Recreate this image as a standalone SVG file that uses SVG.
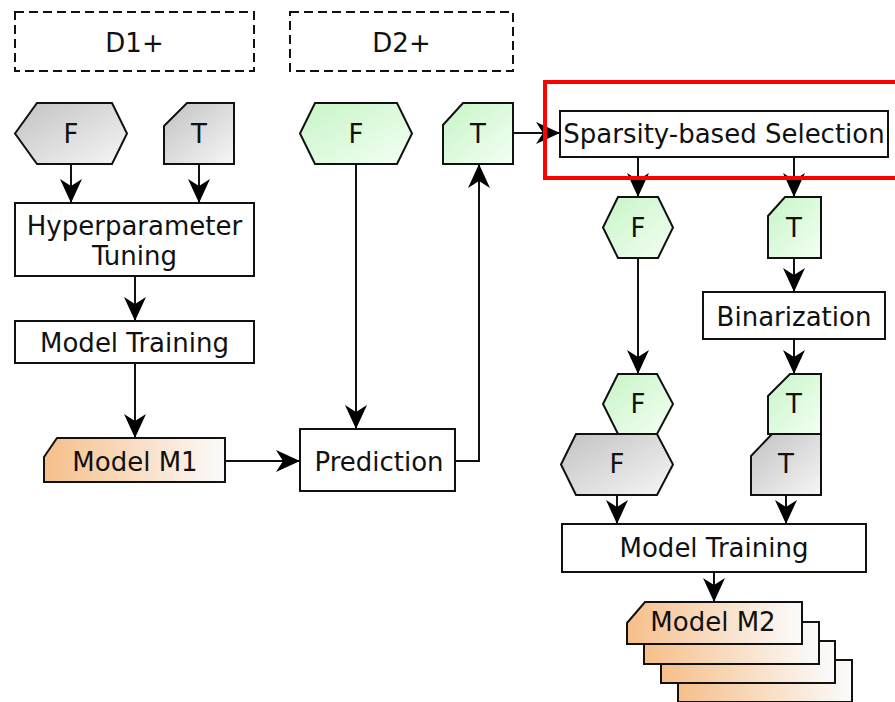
<svg xmlns="http://www.w3.org/2000/svg" width="895" height="702" viewBox="0 0 895 702">
<defs>
<linearGradient id="gGray" x1="0" y1="0" x2="1" y2="1">
<stop offset="0" stop-color="#c2c2c2"/>
<stop offset="1" stop-color="#f6f6f6"/>
</linearGradient>
<linearGradient id="gGreen" x1="0" y1="0" x2="1" y2="1">
<stop offset="0" stop-color="#c6f5c6"/>
<stop offset="1" stop-color="#f4fff4"/>
</linearGradient>
<linearGradient id="gOrange" x1="0" y1="0" x2="1" y2="0">
<stop offset="0" stop-color="#f6bf8a"/>
<stop offset="1" stop-color="#fbfbfb"/>
</linearGradient>
<marker id="arr" markerUnits="userSpaceOnUse" markerWidth="30" markerHeight="26" viewBox="-26 -13 30 26" refX="0" refY="0" orient="auto">
<path d="M0,0 L-24,-11 L-17,0 L-24,11 Z" fill="#000"/>
</marker>
<style>
.t{font-family:"DejaVu Sans","Liberation Sans",sans-serif;font-size:26px;fill:#111;text-anchor:middle}
.box{fill:#fff;stroke:#111;stroke-width:2}
.dash{fill:none;stroke:#111;stroke-width:2;stroke-dasharray:9,5}
.gray{fill:url(#gGray);stroke:#111;stroke-width:2;stroke-linejoin:miter}
.green{fill:url(#gGreen);stroke:#111;stroke-width:2}
.orange{fill:url(#gOrange);stroke:#111;stroke-width:2}
.c{fill:none;stroke:#111;stroke-width:2;marker-end:url(#arr)}
</style>
</defs>
<rect width="895" height="702" fill="#fff"/>

<g id="d1">
<rect class="dash" x="15" y="12" width="239" height="59"/>
<text class="t" x="134.5" y="52">D1+</text>
</g>
<g id="d2">
<rect class="dash" x="290" y="12" width="223" height="59"/>
<text class="t" x="401.5" y="52">D2+</text>
</g>

<g id="connectors">
<path class="c" d="M71,164 V203"/>
<path class="c" d="M199,164 V203"/>
<path class="c" d="M135,276 V321"/>
<path class="c" d="M135,363 V438"/>
<path class="c" d="M225,461 H300"/>
<path class="c" d="M356,164 V429"/>
<path class="c" d="M455,461 H479 V164"/>
<path class="c" d="M513,133 H560"/>
<path class="c" d="M638,157 V197"/>
<path class="c" d="M794,157 V197"/>
<path class="c" d="M638,258 V374"/>
<path class="c" d="M794,258 V292"/>
<path class="c" d="M794,339 V374"/>
<path class="c" d="M617,495 V524"/>
<path class="c" d="M786,495 V524"/>
<path class="c" d="M714,572 V602"/>
</g>

<g id="f1">
<polygon class="gray" points="15,133.5 37,103 112,103 127,133.5 112,164 37,164"/>
<text class="t" x="71" y="143">F</text>
</g>
<g id="t1">
<polygon class="gray" points="164,126 187,103 234,103 234,164 164,164"/>
<text class="t" x="199" y="143">T</text>
</g>
<g id="hyper">
<rect class="box" x="15" y="203" width="239" height="73"/>
<text class="t" x="134.5" y="235">Hyperparameter</text>
<text class="t" x="134.5" y="265">Tuning</text>
</g>
<g id="train1">
<rect class="box" x="15" y="321" width="239" height="42"/>
<text class="t" x="134.5" y="352">Model Training</text>
</g>
<g id="m1">
<polygon class="orange" points="44,457 57,438 225,438 225,482 44,482"/>
<text class="t" x="135" y="471">Model M1</text>
</g>
<g id="f2">
<polygon class="green" points="300,133.5 315,103 397,103 412,133.5 397,164 315,164"/>
<text class="t" x="356" y="143">F</text>
</g>
<g id="t2">
<polygon class="green" points="443,125 463,103 513,103 513,164 443,164"/>
<text class="t" x="478" y="143">T</text>
</g>
<g id="prediction">
<rect class="box" x="300" y="429" width="155" height="62"/>
<text class="t" x="379" y="471">Prediction</text>
</g>
<g id="sparsity">
<rect class="box" x="560" y="111" width="328" height="46"/>
<text class="t" x="724" y="143">Sparsity-based Selection</text>
</g>
<g id="highlight">
<rect x="545" y="82" width="360" height="96" fill="none" stroke="#ff0000" stroke-width="4"/>
</g>
<g id="f3">
<polygon class="green" points="603,227.5 618,197 658,197 673,227.5 658,258 618,258"/>
<text class="t" x="638" y="237">F</text>
</g>
<g id="t3">
<polygon class="green" points="768,216 785,197 821,197 821,258 768,258"/>
<text class="t" x="794" y="237">T</text>
</g>
<g id="binarization">
<rect class="box" x="703" y="292" width="182" height="47"/>
<text class="t" x="794" y="326">Binarization</text>
</g>
<g id="f5">
<polygon class="gray" points="561,464.5 576,434 657,434 673,464.5 657,495 576,495"/>
<text class="t" x="617" y="473">F</text>
</g>
<g id="f4">
<polygon class="green" points="603,404 618,374 657,374 673,404 657,434 618,434"/>
<text class="t" x="638" y="413">F</text>
</g>
<g id="t5">
<polygon class="gray" points="751,456 772,434 821,434 821,495 751,495"/>
<text class="t" x="786" y="473">T</text>
</g>
<g id="t4">
<polygon class="green" points="768,396 790,374 821,374 821,434 768,434"/>
<text class="t" x="794" y="413">T</text>
</g>
<g id="train2">
<rect class="box" x="562" y="524" width="304" height="48"/>
<text class="t" x="714" y="557">Model Training</text>
</g>
<g id="m2">
<rect class="orange" x="678" y="660" width="174" height="42"/>
<rect class="orange" x="661" y="641" width="174" height="42"/>
<rect class="orange" x="644" y="622" width="175" height="42"/>
<polygon class="orange" points="627,623 645,602 802,602 802,644 627,644"/>
<text class="t" x="713" y="631">Model M2</text>
</g>
</svg>
